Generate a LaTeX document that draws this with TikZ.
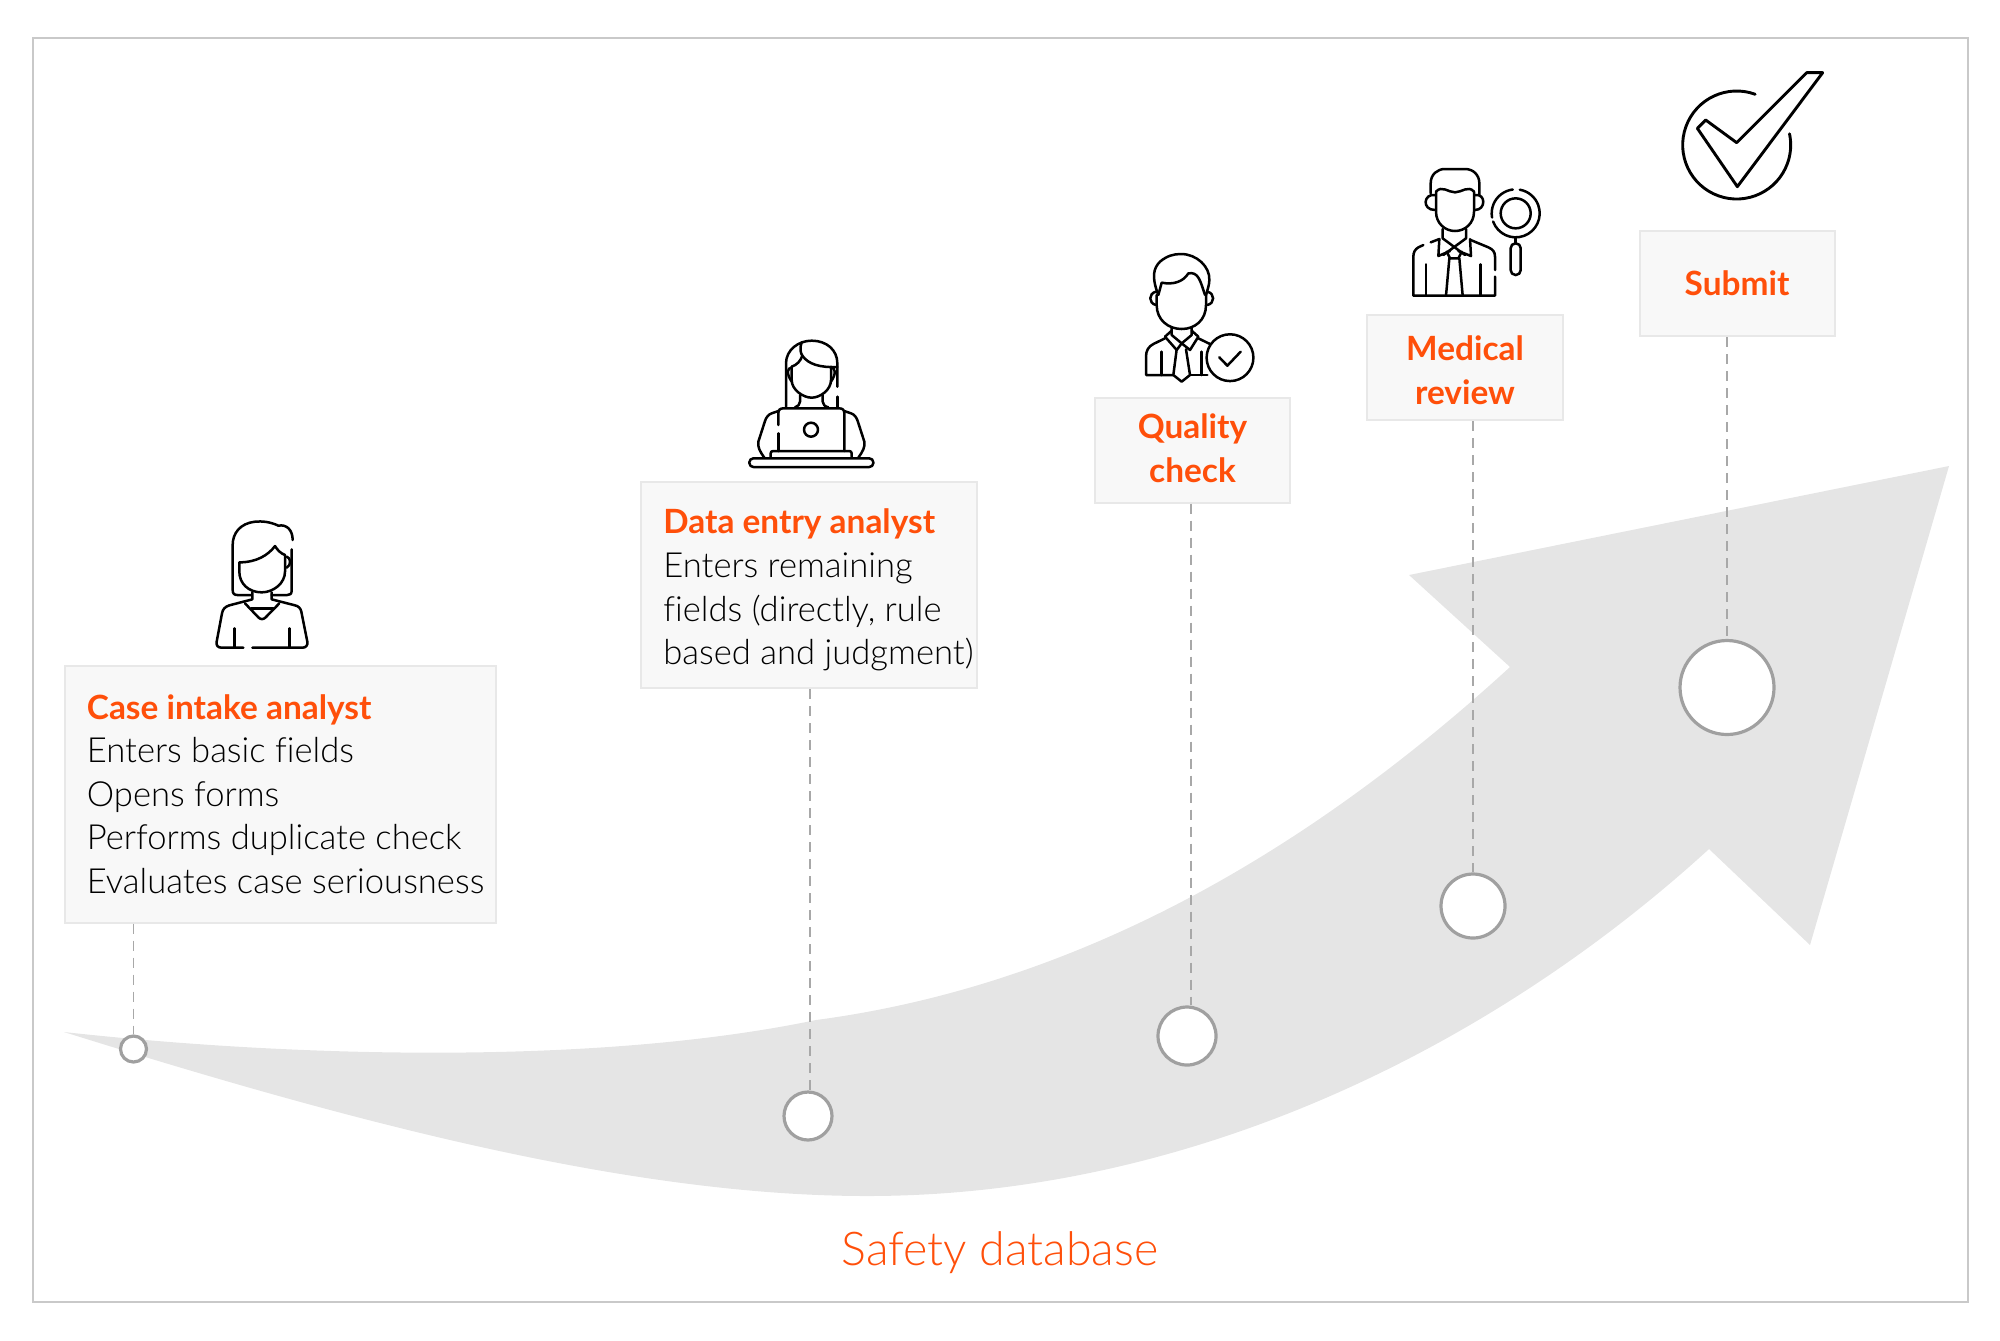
\documentclass[tikz,border=0pt]{standalone}
\usepackage{fontspec}
\setmainfont{Lato}[UprightFont=* Light,BoldFont=* Bold,Ligatures=NoCommon]
\usetikzlibrary{positioning}
\definecolor{accent}{HTML}{FF4F0A}
\definecolor{sweep}{HTML}{E5E5E5}
\definecolor{rim}{HTML}{C9C9C9}
\definecolor{boxfill}{HTML}{F8F8F8}
\definecolor{boxrim}{HTML}{E8E8E8}
\definecolor{stem}{HTML}{A8A8A8}
\definecolor{ringrim}{HTML}{A0A0A0}
\tikzset{infobox/.style={draw=boxrim,fill=boxfill,line width=1pt,inner sep=0pt},
  boxtext/.style={inner sep=0pt,align=left,font=\fontsize{17.3}{21.8}\selectfont},
  ring/.style={draw=ringrim,fill=white,circle,line width=1.6pt,inner sep=0pt},
  icon/.style={line width=1.25pt,line cap=round,line join=round}}
\tikzstyle{dropline} = [draw=stem,line width=.8pt,dash pattern=on 5pt off 3.5pt]
\newcommand{\head}[1]{{\fontsize{16.7}{21.8}\selectfont\bfseries\textcolor{accent}{#1}}}

\begin{document}
\begin{tikzpicture}[x=.5pt,y=-.5pt]
	\useasboundingbox (0,0) rectangle (2000,1340);
	\draw[rim,line width=1pt] (33,38) rectangle (1968,1302);

	% the big arrow
	\fill[sweep] (64,1032) .. controls (300,1058) and (600,1065) .. (816,1020)
		.. controls (1080,985) and (1310,850) .. (1510,667)
		-- (1409,575) -- (1949,466) -- (1810,945) -- (1709,849)
		.. controls (1500,1040) and (1200,1196) .. (867,1196)
		.. controls (620,1196) and (330,1115) .. (64,1032) -- cycle;

	% boxes
	\node[infobox,minimum width=215.5pt,minimum height=128.5pt] (casebox) at (280,794) {};
	\node[boxtext,right=11.5pt of casebox.west] (casetext) {\head{Case intake analyst}\\Enters basic fields\\Opens forms\\Performs duplicate check\\Evaluates case seriousness};
	\node[infobox,minimum width=168pt,minimum height=103pt] (entrybox) at (809,585) {};
	\node[boxtext,right=11.5pt of entrybox.west,yshift=-2.5pt] (entrytext) {\head{Data entry analyst}\\Enters remaining\\fields (directly, rule\\based and judgment)};
	\node[infobox,minimum width=97.5pt,minimum height=52.5pt] (qualitybox) at (1192.5,450) {};
	\node[boxtext,align=center,yshift=.8pt] (qualitytext) at (qualitybox) {\head{Quality}\\\head{check}};
	\node[infobox,minimum width=98pt,minimum height=52.5pt] (medicalbox) at (1465,367.5) {};
	\node[boxtext,align=center,yshift=-1.3pt] (medicaltext) at (medicalbox) {\head{Medical}\\\head{review}};
	\node[infobox,minimum width=97.5pt,minimum height=52.5pt] (submitbox) at (1737,283.5) {};
	\node[boxtext] (submittext) at (submitbox) {\head{Submit}};

	% rings
	\node[ring,minimum size=13pt] (casering) at (133.5,1049) {};
	\node[ring,minimum size=24pt] (entryring) at (808,1116) {};
	\node[ring,minimum size=29pt] (qualityring) at (1187,1036) {};
	\node[ring,minimum size=32pt] (medicalring) at (1473,906) {};
	\node[ring,minimum size=47pt] (submitring) at (1727,687.5) {};
	\foreach \a/\b/\d in {casebox/casering/0,entrybox/entryring/1,qualitybox/qualityring/2,medicalbox/medicalring/0,submitbox/submitring/0}
		\draw[dropline] ([xshift=\d pt]\a.south -| \b.north) -- ([xshift=\d pt]\b.north);

	\node[font=\fontsize{23.3}{28}\selectfont,text=accent,inner sep=0pt] (dbname) at (1000,1253) {Safety database};

	% woman
	\begin{scope}[shift={(190,500)},x=.16667pt,y=-.16667pt,icon]
		\draw (308,120) .. controls (308,90) and (290,72) .. (265,77) .. controls (240,65) and (215,63) .. (195,65) .. controls (150,70) and (128,100) .. (128,135) -- (128,270) .. controls (128,280) and (132,285) .. (142,285) -- (185,285);
		\draw (305,148) -- (305,272) .. controls (305,282) and (300,285) .. (292,285) -- (245,285);
		\draw (148,187) .. controls (200,187) and (235,165) .. (255,138) .. controls (262,150) and (272,160) .. (285,165) -- (285,215) .. controls (285,250) and (250,277) .. (215,277) .. controls (175,277) and (148,250) .. (148,215) -- cycle;
		\draw (290,170) .. controls (302,172) and (305,195) .. (290,203);
		\draw (187,277) -- (187,298) -- (118,316) .. controls (105,320) and (98,328) .. (96,340) -- (80,425) .. controls (78,437) and (84,443) .. (95,443) -- (160,443);
		\draw (187,443) -- (338,443) .. controls (348,443) and (354,435) .. (352,425) -- (334,335) .. controls (332,325) and (325,318) .. (315,316) -- (245,298) -- (245,277);
		\draw (165,310) -- (205,352) .. controls (212,359) and (220,359) .. (227,352) -- (268,310);
		\draw (183,325) -- (250,325);
		\draw (133,385) -- (133,443);
		\draw (298,385) -- (298,443);
	\end{scope}

	% woman at laptop
	\begin{scope}[shift={(730,325)},x=.16667pt,y=-.16667pt,icon]
		\draw (168,245) -- (168,115) .. controls (168,75) and (205,47) .. (245,47) .. controls (290,47) and (322,75) .. (322,115) -- (322,185);
		\draw (322,215) -- (322,245);
		\draw (215,52) .. controls (208,70) and (212,85) .. (217,92) .. controls (212,108) and (200,120) .. (185,125);
		\draw (217,92) .. controls (235,118) and (270,128) .. (322,126);
		\draw (185,125) -- (185,165) .. controls (185,195) and (220,218) .. (245,218) .. controls (270,218) and (303,195) .. (303,165) -- (303,125);
		\draw (185,128) .. controls (172,128) and (168,145) .. (185,170);
		\draw (303,128) .. controls (316,128) and (320,145) .. (303,170);
		\draw (210,210) -- (210,230) .. controls (210,238) and (203,245) .. (195,247);
		\draw (278,210) -- (278,230) .. controls (278,238) and (285,245) .. (295,247);
		\draw (145,300) -- (145,265) .. controls (145,255) and (150,250) .. (160,250) -- (328,250) .. controls (338,250) and (343,255) .. (343,265) -- (343,378);
		\draw (145,325) -- (145,378);
		\draw (243,314) circle[radius=3.5pt];
		\draw (122,395) -- (122,385) .. controls (122,380) and (125,378) .. (130,378) -- (357,378) .. controls (362,378) and (365,380) .. (365,385) -- (365,395);
		\draw[rounded corners=2pt] (58,400) rectangle (430,426);
		\draw (145,258) -- (125,265) .. controls (115,268) and (108,278) .. (105,288) -- (85,350) .. controls (82,365) and (90,380) .. (103,398);
		\draw (343,258) -- (363,265) .. controls (373,268) and (380,278) .. (383,288) -- (403,350) .. controls (406,365) and (398,380) .. (385,398);
	\end{scope}

	% man with tick
	\begin{scope}[shift={(1130,240)},x=.16667pt,y=-.16667pt,icon]
		\draw (83,160) .. controls (65,110) and (70,85) .. (90,65) .. controls (110,48) and (130,42) .. (153,42) .. controls (200,42) and (240,80) .. (238,120) .. controls (238,135) and (232,150) .. (228,165);
		\draw (80,165) -- (80,195) .. controls (80,240) and (115,267) .. (155,267) .. controls (195,267) and (228,240) .. (228,195) -- (228,160);
		\draw (85,165) -- (95,128) .. controls (130,135) and (160,125) .. (175,100) .. controls (205,95) and (210,120) .. (225,165);
		\draw (78,155) .. controls (55,160) and (55,190) .. (78,195);
		\draw (232,155) .. controls (255,160) and (255,190) .. (232,195);
		\draw (125,262) -- (125,285) -- (155,310) -- (185,285) -- (185,262);
		\draw (125,272) -- (105,290) -- (140,330) -- (155,310) -- (180,330) -- (205,290) -- (185,272);
		\draw (140,328) -- (130,405) -- (155,425) -- (180,405) -- (168,328);
		\draw (105,295) -- (70,312) .. controls (55,320) and (48,332) .. (48,350) -- (48,405) -- (130,405);
		\draw (180,405) -- (232,405);
		\draw (205,295) -- (240,312);
		\draw (95,335) -- (95,405);
		\draw (215,335) -- (215,405);
		\draw[fill=white] (300,353) circle[radius=11.7pt];
		\draw (268,352) -- (292,377) -- (332,335);
	\end{scope}

	% man with magnifier
	\begin{scope}[shift={(1400,155)},x=.16667pt,y=-.16667pt,icon]
		\draw (92,115) -- (92,85) .. controls (92,58) and (112,42) .. (135,42) -- (195,42) .. controls (220,42) and (238,60) .. (238,85) -- (238,120);
		\draw (108,110) -- (108,170) .. controls (108,205) and (135,228) .. (165,228) .. controls (195,228) and (222,205) .. (222,170) -- (222,110);
		\draw (108,110) .. controls (125,90) and (145,112) .. (165,112) .. controls (185,112) and (205,90) .. (222,110);
		\draw (105,120) .. controls (70,115) and (65,165) .. (105,165);
		\draw (225,120) .. controls (258,115) and (258,165) .. (225,165);
		\draw (128,222) -- (128,250) -- (195,300);
		\draw (198,222) -- (198,250) -- (130,300);
		\draw (118,252) -- (115,303) -- (150,288);
		\draw (210,252) -- (213,303) -- (175,288);
		\draw (150,310) -- (175,310) -- (185,290);
		\draw (150,310) -- (140,290);
		\draw (148,310) -- (138,422);
		\draw (178,310) -- (188,422);
		\draw (70,270) -- (55,277) .. controls (45,283) and (40,292) .. (40,305) -- (40,422) -- (285,422) -- (285,365);
		\draw (285,345) -- (285,305) .. controls (285,290) and (278,283) .. (265,277) -- (212,255);
		\draw (92,262) -- (118,252);
		\draw (78,328) -- (78,422);
		\draw (242,328) -- (242,422);
		\coordinate (lens) at (347,175);
		\draw ([shift={(97:12pt)}]lens) arc[start angle=97,end angle=190,radius=12pt];
		\draw ([shift={(200:12pt)}]lens) arc[start angle=200,end angle=440,radius=12pt];
		\draw (lens) circle[radius=7.5pt];
		\draw (347,248) -- (347,265);
		\draw[rounded corners=2.4pt] (332,265) rectangle (362,360);
	\end{scope}

	% tick
	\begin{scope}[shift={(1660,60)},x=.16667pt,y=-.16667pt,icon,line width=1.45pt]
		\coordinate (tickc) at (230,255);
		\draw ([shift={(70:27pt)}]tickc) arc[start angle=70,end angle=372,radius=27pt];
		\draw (112,205) -- (137,180) -- (230,248) -- (440,38) -- (488,38) -- (232,380) -- cycle;
	\end{scope}
\end{tikzpicture}
\end{document}
